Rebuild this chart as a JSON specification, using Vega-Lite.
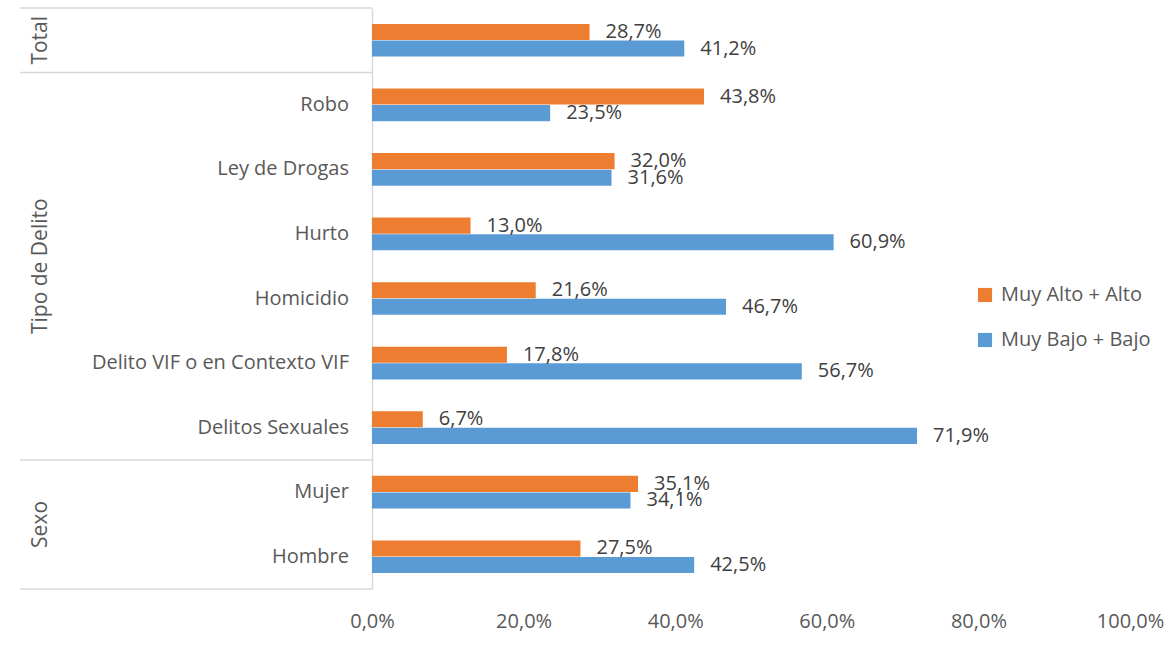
{
  "$schema": "https://vega.github.io/schema/vega-lite/v6.json",
  "padding": {"left": 19, "top": 7, "right": 0, "bottom": 0},
  "autosize": {"type": "pad"},
  "bounds": "flush",
  "background": "white",
  "config": {
    "locale": {"number": {"decimal": ",", "thousands": ".", "grouping": [3], "currency": ["", " €"]}},
    "view": {"stroke": null},
    "font": "Open Sans",
    "concat": {"spacing": 0}
  },
  "datasets": {
    "barras": [
      {"categoria": "Total", "serie": "Muy Alto + Alto", "valor": 0.287},
      {"categoria": "Total", "serie": "Muy Bajo + Bajo", "valor": 0.412},
      {"categoria": "Robo", "serie": "Muy Alto + Alto", "valor": 0.438},
      {"categoria": "Robo", "serie": "Muy Bajo + Bajo", "valor": 0.235},
      {"categoria": "Ley de Drogas", "serie": "Muy Alto + Alto", "valor": 0.320},
      {"categoria": "Ley de Drogas", "serie": "Muy Bajo + Bajo", "valor": 0.316},
      {"categoria": "Hurto", "serie": "Muy Alto + Alto", "valor": 0.130},
      {"categoria": "Hurto", "serie": "Muy Bajo + Bajo", "valor": 0.609},
      {"categoria": "Homicidio", "serie": "Muy Alto + Alto", "valor": 0.216},
      {"categoria": "Homicidio", "serie": "Muy Bajo + Bajo", "valor": 0.467},
      {"categoria": "Delito VIF o en Contexto VIF", "serie": "Muy Alto + Alto", "valor": 0.178},
      {"categoria": "Delito VIF o en Contexto VIF", "serie": "Muy Bajo + Bajo", "valor": 0.567},
      {"categoria": "Delitos Sexuales", "serie": "Muy Alto + Alto", "valor": 0.067},
      {"categoria": "Delitos Sexuales", "serie": "Muy Bajo + Bajo", "valor": 0.719},
      {"categoria": "Mujer", "serie": "Muy Alto + Alto", "valor": 0.351},
      {"categoria": "Mujer", "serie": "Muy Bajo + Bajo", "valor": 0.341},
      {"categoria": "Hombre", "serie": "Muy Alto + Alto", "valor": 0.275},
      {"categoria": "Hombre", "serie": "Muy Bajo + Bajo", "valor": 0.425}
    ],
    "grupos": [
      {"grupo": "Total", "ancla": "Total", "pos": "centro"},
      {"grupo": "Tipo de Delito", "ancla": "Homicidio", "pos": "borde"},
      {"grupo": "Sexo", "ancla": "Hombre", "pos": "borde"}
    ],
    "separadores": [
      {"ancla": "Total", "lado": "inicio"},
      {"ancla": "Robo", "lado": "inicio"},
      {"ancla": "Mujer", "lado": "inicio"},
      {"ancla": "Hombre", "lado": "fin"}
    ]
  },
  "hconcat": [
    {
      "width": 352,
      "height": 581,
      "layer": [
        {
          "data": {"name": "barras"},
          "transform": [{"filter": "datum.serie === 'Muy Alto + Alto' && datum.categoria !== 'Total'"}],
          "mark": {"type": "text", "align": "right", "baseline": "middle", "dx": -23, "fontSize": 20, "color": "#595959"},
          "encoding": {
            "x": {"datum": 1, "type": "quantitative", "scale": {"domain": [0, 1]}, "axis": null},
            "y": {"field": "categoria", "type": "nominal", "scale": {"domain": ["Total", "Robo", "Ley de Drogas", "Hurto", "Homicidio", "Delito VIF o en Contexto VIF", "Delitos Sexuales", "Mujer", "Hombre"], "paddingInner": 0, "paddingOuter": 0}, "axis": null},
            "text": {"field": "categoria"}
          }
        },
        {
          "data": {"name": "grupos"},
          "transform": [{"filter": "datum.pos === 'centro'"}],
          "mark": {"type": "text", "angle": 270, "align": "center", "baseline": "middle", "fontSize": 21, "color": "#595959"},
          "encoding": {
            "x": {"datum": 0.06, "type": "quantitative"},
            "y": {"field": "ancla", "type": "nominal", "bandPosition": 0.5, "scale": {"domain": ["Total", "Robo", "Ley de Drogas", "Hurto", "Homicidio", "Delito VIF o en Contexto VIF", "Delitos Sexuales", "Mujer", "Hombre"], "paddingInner": 0, "paddingOuter": 0}, "axis": null},
            "text": {"field": "grupo"}
          }
        },
        {
          "data": {"name": "grupos"},
          "transform": [{"filter": "datum.pos === 'borde'"}],
          "mark": {"type": "text", "angle": 270, "align": "center", "baseline": "middle", "fontSize": 21, "color": "#595959"},
          "encoding": {
            "x": {"datum": 0.06, "type": "quantitative"},
            "y": {"field": "ancla", "type": "nominal", "bandPosition": 0, "scale": {"domain": ["Total", "Robo", "Ley de Drogas", "Hurto", "Homicidio", "Delito VIF o en Contexto VIF", "Delitos Sexuales", "Mujer", "Hombre"], "paddingInner": 0, "paddingOuter": 0}, "axis": null},
            "text": {"field": "grupo"}
          }
        },
        {
          "data": {"name": "separadores"},
          "transform": [{"filter": "datum.lado === 'inicio'"}],
          "mark": {"type": "rule", "color": "#d9d9d9", "strokeWidth": 1.5},
          "encoding": {
            "x": {"datum": 0, "type": "quantitative"},
            "x2": {"datum": 1},
            "y": {"field": "ancla", "type": "nominal", "bandPosition": 0, "scale": {"domain": ["Total", "Robo", "Ley de Drogas", "Hurto", "Homicidio", "Delito VIF o en Contexto VIF", "Delitos Sexuales", "Mujer", "Hombre"], "paddingInner": 0, "paddingOuter": 0}, "axis": null}
          }
        },
        {
          "data": {"name": "separadores"},
          "transform": [{"filter": "datum.lado === 'fin'"}],
          "mark": {"type": "rule", "color": "#d9d9d9", "strokeWidth": 1.5},
          "encoding": {
            "x": {"datum": 0, "type": "quantitative"},
            "x2": {"datum": 1},
            "y": {"field": "ancla", "type": "nominal", "bandPosition": 1, "scale": {"domain": ["Total", "Robo", "Ley de Drogas", "Hurto", "Homicidio", "Delito VIF o en Contexto VIF", "Delitos Sexuales", "Mujer", "Hombre"], "paddingInner": 0, "paddingOuter": 0}, "axis": null}
          }
        }
      ]
    },
    {
      "width": 758,
      "height": 581,
      "data": {"name": "barras"},
      "encoding": {
        "y": {"field": "categoria", "type": "nominal", "scale": {"domain": ["Total", "Robo", "Ley de Drogas", "Hurto", "Homicidio", "Delito VIF o en Contexto VIF", "Delitos Sexuales", "Mujer", "Hombre"], "paddingInner": 0, "paddingOuter": 0}, "axis": {"labels": false, "ticks": false, "title": null, "domainColor": "#d9d9d9", "domainWidth": 1.5}},
        "yOffset": {"field": "serie", "type": "nominal", "sort": ["Muy Alto + Alto", "Muy Bajo + Bajo"], "scale": {"paddingOuter": 0.96, "paddingInner": 0.03}},
        "x": {"field": "valor", "type": "quantitative", "scale": {"domain": [0, 1]}, "axis": {"format": ".1%", "values": [0, 0.2, 0.4, 0.6, 0.8, 1], "grid": false, "domain": false, "ticks": false, "labelFlush": false, "labelFontSize": 20, "labelColor": "#595959", "labelPadding": 22, "title": null}}
      },
      "layer": [
        {
          "mark": {"type": "bar"},
          "encoding": {
            "color": {
              "field": "serie", "type": "nominal",
              "scale": {"domain": ["Muy Alto + Alto", "Muy Bajo + Bajo"], "range": ["#ED7D31", "#5B9BD5"]},
              "legend": {"orient": "none", "legendX": 955, "legendY": 277, "title": null, "labelFontSize": 20, "labelColor": "#595959", "symbolType": "square", "symbolSize": 200, "symbolStrokeWidth": 0, "rowPadding": 25, "labelOffset": 6, "padding": 0}
            }
          }
        },
        {
          "mark": {"type": "text", "align": "left", "baseline": "middle", "dx": 16, "fontSize": 20, "color": "#404040"},
          "encoding": {"text": {"field": "valor", "type": "quantitative", "format": ".1%"}}
        }
      ]
    }
  ]
}
